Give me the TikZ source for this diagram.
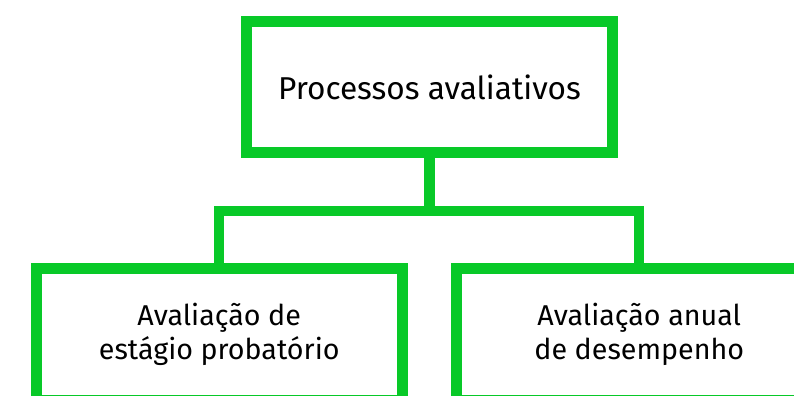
\documentclass[tikz,border=0pt]{standalone}
\usepackage{fontspec}
\setmainfont{Fira Sans}
\usetikzlibrary{positioning}

\definecolor{boxgreen}{RGB}{8,201,40}
\tikzset{every picture/.style={line width=0.75pt}}
\tikzset{
  evalbox/.style={draw=boxgreen, line width=8.25pt, fill=white, inner sep=0pt,
    minimum width=274.5pt, minimum height=98.6pt, align=center,
    font=\fontsize{21.5}{25.5}\selectfont},
  branch/.style={draw=boxgreen, line width=7.75pt, line join=miter}
}

\begin{document}
\begin{tikzpicture}[x=0.75pt,y=0.75pt,yscale=-1,xscale=1]
\useasboundingbox (0,0) rectangle (794,396);
\clip (0,0) rectangle (794,396);
\fill[white] (0,0) rectangle (794,396);

%Shape: Rectangle [top]
\node[evalbox, font=\fontsize{23.7}{25.5}\selectfont] (proc) at (429.5,87.25) {Processos avaliativos};
%Shape: Rectangle [left]
\node[evalbox] (estagio) at (219.25,334.5) {Avaliação de\\estágio probatório};
%Shape: Rectangle [right]
\node[evalbox] (anual) at (639.25,334.5) {Avaliação anual\\de desempenho};

%Straight Lines [fork]
\coordinate (fork) at (429.5,211);
\draw[branch] (proc.south) -- (fork);
\draw[branch] (estagio.north) |- (fork) -| (anual.north);

\end{tikzpicture}
\end{document}
